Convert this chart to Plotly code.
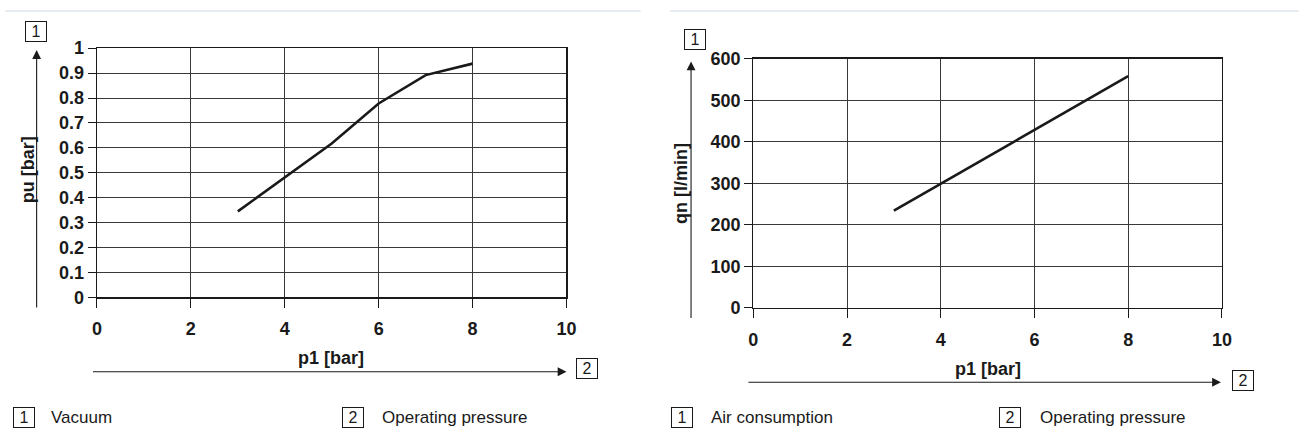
import plotly.graph_objects as go

W, H = 1309, 440

# ---- data ----
vac_p1 = [3, 4, 5, 6, 7, 8]
vac_pu = [0.345, 0.482, 0.617, 0.778, 0.892, 0.938]

air_p1 = [3, 4, 5, 6, 7, 8]
air_qn = [234, 299, 363, 428, 493, 558]

x_ticks = [0, 2, 4, 6, 8, 10]
x_ticktext = ["0", "2", "4", "6", "8", "10"]
vac_ticks = [0, 0.1, 0.2, 0.3, 0.4, 0.5, 0.6, 0.7, 0.8, 0.9, 1]
vac_ticktext = ["0", "0.1", "0.2", "0.3", "0.4", "0.5", "0.6", "0.7", "0.8", "0.9", "1"]
air_ticks = [0, 100, 200, 300, 400, 500, 600]
air_ticktext = ["0", "100", "200", "300", "400", "500", "600"]

left_ytitle = "pu [bar]"
right_ytitle = "qn [l/min]"
xtitle = "p1 [bar]"
left_legend = ["Vacuum", "Operating pressure"]
right_legend = ["Air consumption", "Operating pressure"]

FONT = "Liberation Sans"


def px(x):
    return x / W


def py(y):
    return 1 - y / H


fig = go.Figure()
fig.add_trace(go.Scatter(x=vac_p1, y=vac_pu, mode="lines",
                         line=dict(color="#1a1a1a", width=2.6),
                         xaxis="x", yaxis="y", hoverinfo="skip"))
fig.add_trace(go.Scatter(x=air_p1, y=air_qn, mode="lines",
                         line=dict(color="#1a1a1a", width=2.6),
                         xaxis="x2", yaxis="y2", hoverinfo="skip"))

tickfont = dict(family=FONT, size=18, color="#1a1a1a", weight="bold")
common_axis = dict(showgrid=True, gridcolor="#3a3a3a", gridwidth=1,
                   showline=True, linecolor="#1a1a1a", linewidth=1.3, mirror=True,
                   ticks="outside", tickcolor="#1a1a1a", tickwidth=1,
                   zeroline=False, tickfont=tickfont, fixedrange=True)

# left chart: x 93..568, y 40..301 ; right chart: x 757..1231, y 51..312
fig.update_layout(
    xaxis=dict(domain=[px(93), px(568)], range=[0, 10], tickvals=x_ticks,
               ticktext=x_ticktext, anchor="y", ticklen=9, ticklabelstandoff=6,
               **common_axis),
    yaxis=dict(domain=[py(301), py(40)], range=[0, 1], tickvals=vac_ticks,
               ticktext=vac_ticktext, anchor="x", ticklen=8, **common_axis),
    xaxis2=dict(domain=[px(757), px(1231)], range=[0, 10], tickvals=x_ticks,
                ticktext=x_ticktext, anchor="y2", ticklen=9, ticklabelstandoff=6,
                **common_axis),
    yaxis2=dict(domain=[py(312), py(51)], range=[0, 600], tickvals=air_ticks,
                ticktext=air_ticktext, anchor="x2", ticklen=8, **common_axis),
    width=W, height=H,
    margin=dict(l=0, r=0, t=0, b=0),
    paper_bgcolor="white", plot_bgcolor="white",
    showlegend=False,
)

shapes = [
    dict(type="rect", xref="paper", yref="paper", x0=px(0), x1=px(643), y0=py(2), y1=py(0),
         fillcolor="#e6ecf2", line=dict(width=0), layer="below"),
    dict(type="rect", xref="paper", yref="paper", x0=px(673), x1=px(1309), y0=py(2), y1=py(0),
         fillcolor="#e6ecf2", line=dict(width=0), layer="below"),
]
fig.update_layout(shapes=shapes)

ann = []


def arrow(x_tip, y_tip, ax, ay):
    ann.append(dict(x=px(x_tip), y=py(y_tip), xref="paper", yref="paper",
                    ax=ax, ay=ay, axref="pixel", ayref="pixel", text="",
                    showarrow=True, arrowhead=2, arrowsize=1.6, arrowwidth=1.1,
                    arrowcolor="#1a1a1a", standoff=0, startstandoff=0))


def box(xc, yc, label):
    ann.append(dict(x=px(xc), y=py(yc), xref="paper", yref="paper", text=label,
                    showarrow=False, xanchor="center", yanchor="middle",
                    font=dict(family=FONT, size=16, color="#1a1a1a"),
                    bordercolor="#1a1a1a", borderwidth=1, borderpad=1,
                    width=18, height=17, align="center", valign="middle"))


def text(xp, yp, s, size=17, bold=False, xanchor="left", angle=0):
    ann.append(dict(x=px(xp), y=py(yp), xref="paper", yref="paper", text=s,
                    showarrow=False, xanchor=xanchor, yanchor="middle", textangle=angle,
                    font=dict(family=FONT, size=size, color="#1a1a1a",
                              weight="bold" if bold else "normal")))


# left chart decorations
arrow(32, 42, 0, 259)
box(31, 23, "1")
text(24, 167, left_ytitle, size=18, bold=True, xanchor="center", angle=-90)
arrow(568, 379, -475, 0)
box(589, 376, "2")
text(330, 365, xtitle, size=18, bold=True, xanchor="center")
box(19.5, 427, "1")
text(45, 427, left_legend[0])
box(352, 427, "2")
text(379, 427, left_legend[1])

# right chart decorations
arrow(694, 54, 0, 258)
box(698, 31, "1")
text(684, 182, right_ytitle, size=18, bold=True, xanchor="center", angle=-90)
arrow(1230, 390, -474, 0)
box(1252, 388, "2")
text(994, 376, xtitle, size=18, bold=True, xanchor="center")
box(685, 427, "1")
text(712, 427, right_legend[0])
box(1017, 427, "2")
text(1045, 427, right_legend[1])

fig.update_layout(annotations=ann)

fig.write_html("out.html", config={"displayModeBar": False, "staticPlot": True},
               post_script="document.body.style.margin='0';document.body.style.overflow='hidden';")
